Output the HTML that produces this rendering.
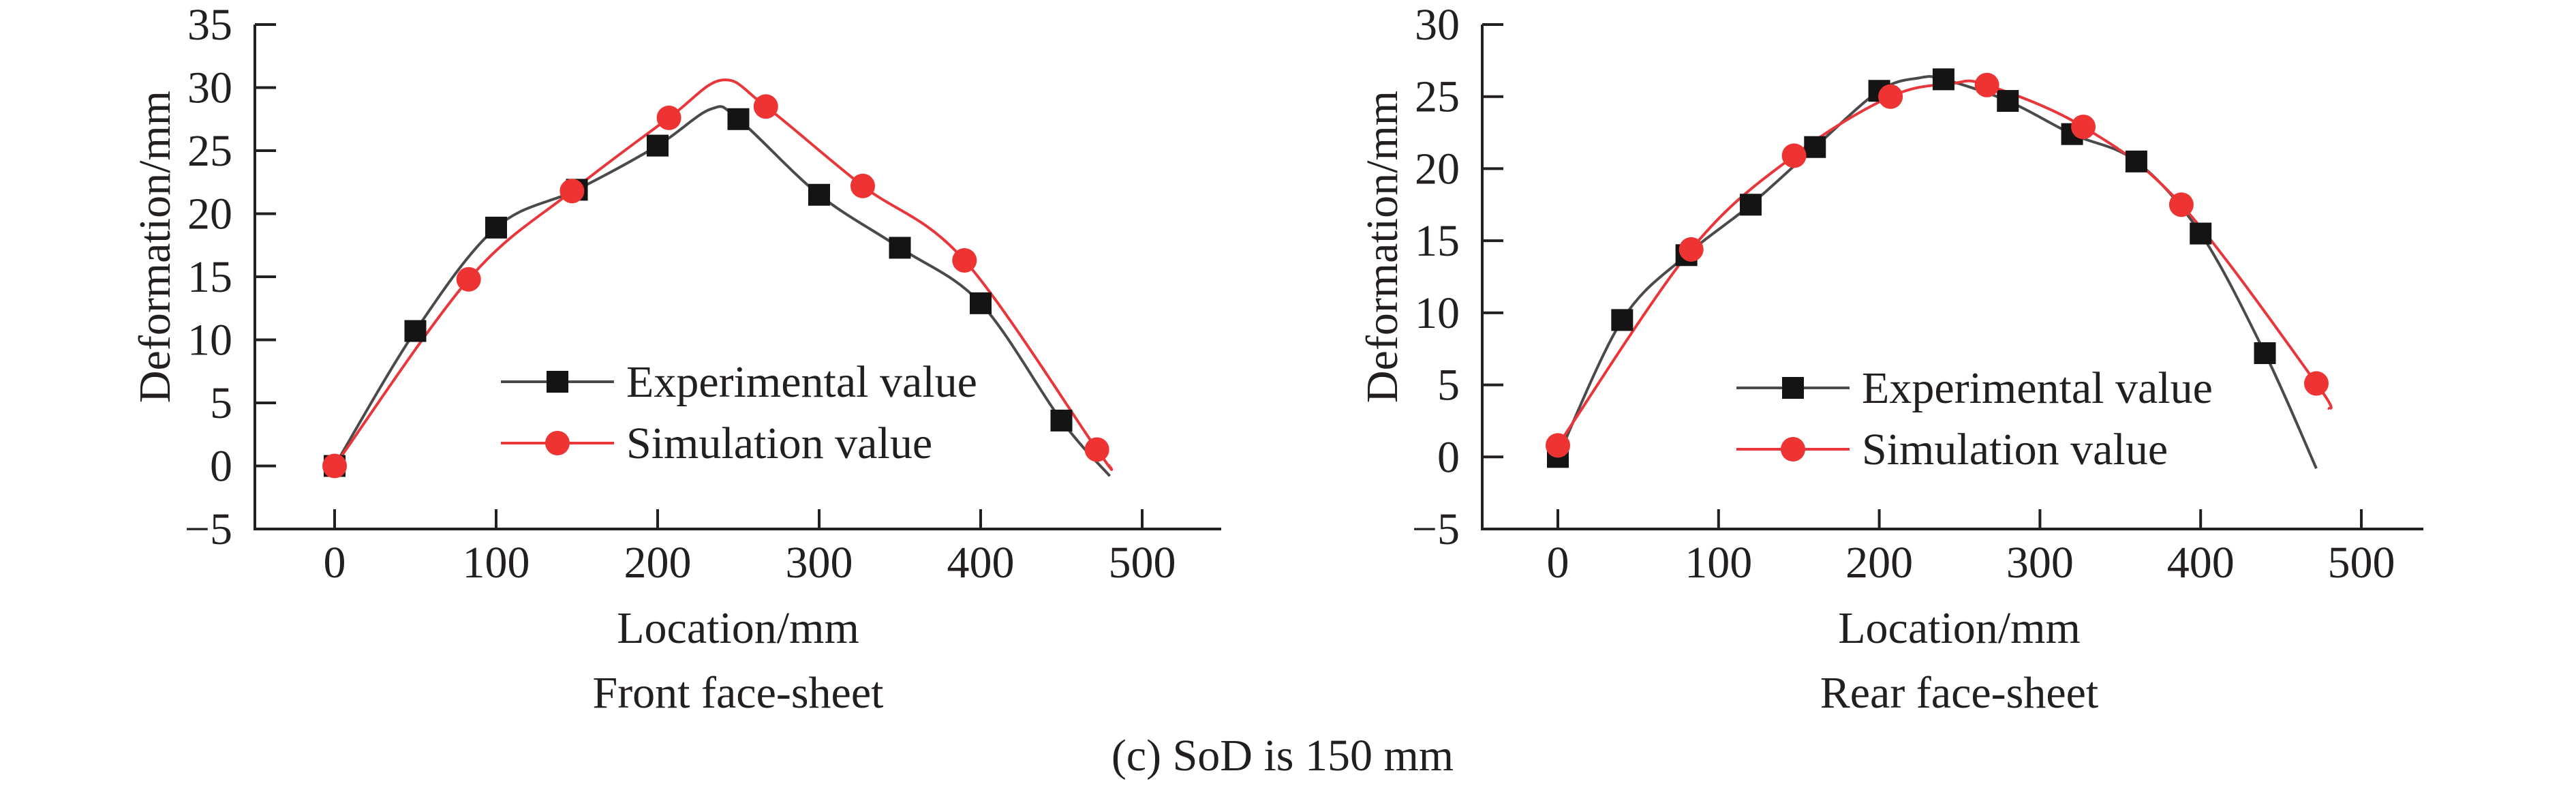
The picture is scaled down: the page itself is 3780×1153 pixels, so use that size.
<!DOCTYPE html>
<html><head><meta charset="utf-8"><style>
html,body{margin:0;padding:0;background:#fff;}
svg{display:block;}
text{font-family:"Liberation Serif",serif;fill:#231f20;}
</style></head><body>
<svg id="fig" width="3780" height="1153" viewBox="0 0 3780 1153" xmlns="http://www.w3.org/2000/svg">
<text x="1882" y="1130" font-size="66" text-anchor="middle">(c) SoD is 150 mm</text>
</svg>
<script>
// Front face-sheet data
const frontExpX = [0,50,100,150,200,250,300,350,400,450];
const frontExpY = [0,10.7,18.9,21.9,25.4,27.5,21.5,17.3,12.9,3.6];
const frontExpCurveX = [0,50,100,150,200,233,250,300,350,400,450,480];
const frontExpCurveY = [0,10.7,18.9,21.9,25.4,28.3,27.5,21.5,17.3,12.9,3.6,-0.8];
const frontSimX = [0,83,147,207,267,327,390,472];
const frontSimY = [0,14.8,21.8,27.6,28.5,22.2,16.3,1.3];
const frontSimCurveX = [0,83,147,207,240,267,327,390,472,480];
const frontSimCurveY = [0,14.8,21.8,27.6,30.6,28.5,22.2,16.3,1.3,0];
const frontYTicks = [-5,0,5,10,15,20,25,30,35];
// Rear face-sheet data
const rearExpX = [0,40,80,120,160,200,240,280,320,360,400,440];
const rearExpY = [0,9.5,14,17.5,21.5,25.4,26.2,24.7,22.4,20.5,15.5,7.2];
const rearExpCurveX = [0,40,80,120,160,200,225,240,280,320,360,400,440,472];
const rearExpCurveY = [0,9.5,14,17.5,21.5,25.4,26.3,26.2,24.7,22.4,20.5,15.5,7.2,-0.8];
const rearSimX = [0,83,147,207,267,327,388,472];
const rearSimY = [0.8,14.4,20.9,25,25.8,22.9,17.5,5.1];
const rearSimCurveX = [0,83,147,207,245,267,327,388,472,480];
const rearSimCurveY = [0.8,14.4,20.9,25,25.9,25.8,22.9,17.5,5.1,3.3];
const rearYTicks = [-5,0,5,10,15,20,25,30];
const xTicks = [0,100,200,300,400,500];

const NS = 'http://www.w3.org/2000/svg';
const svg = document.getElementById('fig');
function el(tag, attrs, parent){
  const e = document.createElementNS(NS, tag);
  for (const k in attrs) e.setAttribute(k, attrs[k]);
  (parent||svg).appendChild(e);
  return e;
}
function smooth(pts){
  let d = 'M' + pts[0][0] + ',' + pts[0][1];
  for (let i=0;i<pts.length-1;i++){
    const p0=pts[Math.max(0,i-1)], p1=pts[i], p2=pts[i+1], p3=pts[Math.min(pts.length-1,i+2)];
    const c1x=p1[0]+(p2[0]-p0[0])/6, c1y=p1[1]+(p2[1]-p0[1])/6;
    const c2x=p2[0]-(p3[0]-p1[0])/6, c2y=p2[1]-(p3[1]-p1[1])/6;
    d += ' C'+c1x+','+c1y+' '+c2x+','+c2y+' '+p2[0]+','+p2[1];
  }
  return d;
}
function chart(cfg){
  const g = el('g', {});
  
  
  const sx = v => cfg.x0 + v*(cfg.x500-cfg.x0)/500;
  const ymin=-5, ymax=cfg.yTicks[cfg.yTicks.length-1];
  const sy = v => 776 - (v-ymin)*(776-36)/(ymax-ymin);
  // axes
  const ax = el('path', {d:'M'+cfg.axisX+',36 V776 H'+cfg.axisRight, fill:'none', stroke:'#231f20','stroke-width':4}, g);
  
  
  cfg.yTicks.forEach(t=>{
    const tk = el('line',{x1:cfg.axisX,x2:cfg.axisX+31,y1:sy(t),y2:sy(t),stroke:'#231f20','stroke-width':4},g);
    
    
    const lb = el('text',{x:cfg.axisX-33,y:sy(t)+22,'font-size':66,'text-anchor':'end'},g);
    
    
    lb.textContent = t<0 ? '\u2212'+(-t) : String(t);
  });
  xTicks.forEach(t=>{
    const tk = el('line',{x1:sx(t),x2:sx(t),y1:776,y2:747,stroke:'#231f20','stroke-width':4},g);
    
    
    const lb = el('text',{x:sx(t),y:847,'font-size':66,'text-anchor':'middle'},g);
    
    
    lb.textContent = String(t);
  });
  const yl = el('text',{x:0,y:0,'font-size':66,'text-anchor':'middle',transform:'translate('+(cfg.axisX-125)+',362) rotate(-90)'},g);
  
  
  yl.textContent='Deformation/mm';
  const xl = el('text',{x:cfg.titleX,y:943,'font-size':66,'text-anchor':'middle'},g);
  
  
  xl.textContent='Location/mm';
  const st = el('text',{x:cfg.titleX,y:1038,'font-size':66,'text-anchor':'middle'},g);
  
  
  st.textContent=cfg.title;
  // curves
  const ec = el('path',{d:smooth(cfg.expCX.map((x,i)=>[sx(x),sy(cfg.expCY[i])])),fill:'none',stroke:'#4a4a4a','stroke-width':4},g);
  
  
  const sc = el('path',{d:smooth(cfg.simCX.map((x,i)=>[sx(x),sy(cfg.simCY[i])])),fill:'none',stroke:'#e8363a','stroke-width':4},g);
  
  
  cfg.expX.forEach((x,i)=>{
    const m = el('rect',{x:sx(x)-16,y:sy(cfg.expY[i])-16,width:32,height:32,fill:'#141414'},g);
    
    
  });
  cfg.simX.forEach((x,i)=>{
    const m = el('ellipse',{cx:sx(x),cy:sy(cfg.simY[i]),rx:18,ry:18,fill:'#ee3333'},g);
    
    
  });
  // legend
  const L = cfg.legX;
  const l1 = el('line',{x1:L,x2:L+166,y1:cfg.legY,y2:cfg.legY,stroke:'#4a4a4a','stroke-width':4},g);
  
  
  const lm1 = el('rect',{x:L+83-16,y:cfg.legY-16,width:32,height:32,fill:'#141414'},g);
  
  
  const t1 = el('text',{x:L+184,y:cfg.legY+22,'font-size':66},g);
  
  
  t1.textContent='Experimental value';
  const y2 = cfg.legY+90;
  const l2 = el('line',{x1:L,x2:L+166,y1:y2,y2:y2,stroke:'#e8363a','stroke-width':4},g);
  
  
  const lm2 = el('ellipse',{cx:L+83,cy:y2,rx:18,ry:18,fill:'#ee3333'},g);
  
  
  const t2 = el('text',{x:L+184,y:y2+22,'font-size':66},g);
  
  
  t2.textContent='Simulation value';
}
chart({name:'front-face-sheet-chart',axisX:374,axisRight:1792,x0:491,x500:1676,yTicks:frontYTicks,
  expX:frontExpX,expY:frontExpY,expCX:frontExpCurveX,expCY:frontExpCurveY,
  simX:frontSimX,simY:frontSimY,simCX:frontSimCurveX,simCY:frontSimCurveY,
  legX:735,legY:560,titleX:1083,title:'Front face-sheet'});
chart({name:'rear-face-sheet-chart',axisX:2175,axisRight:3556,x0:2286,x500:3465,yTicks:rearYTicks,
  expX:rearExpX,expY:rearExpY,expCX:rearExpCurveX,expCY:rearExpCurveY,
  simX:rearSimX,simY:rearSimY,simCX:rearSimCurveX,simCY:rearSimCurveY,
  legX:2548,legY:569,titleX:2875,title:'Rear face-sheet'});
</script>
</body></html>
